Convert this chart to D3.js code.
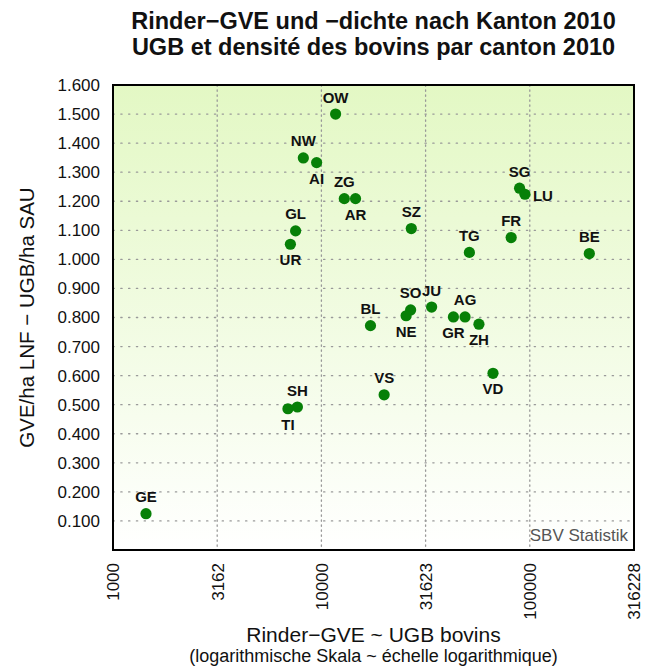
<!DOCTYPE html>
<html><head><meta charset="utf-8">
<script src="https://cdn.jsdelivr.net/npm/d3@7"></script>
<style>
html,body{margin:0;padding:0;background:#fff;}
svg{display:block;font-family:"Liberation Sans",Arial,Helvetica,sans-serif;}
</style></head>
<body>
<svg id="chart" width="648" height="671"></svg>
<script>
// ---- data ----
const cantons = ["OW","NW","AI","ZG","AR","GL","UR","SG","LU","SZ","FR","TG","BE","SO","NE","JU","GR","AG","ZH","BL","VD","VS","SH","TI","GE"];
const gve     = [11700, 8190, 9485, 12880, 14580, 7520, 7100, 89300, 94800, 27000, 81400, 51300, 193000, 26800, 25500, 33800, 43000, 48900, 57000, 17200, 66600, 20000, 7670, 6910, 1440];
const density = [1.500, 1.349, 1.333, 1.209, 1.209, 1.098, 1.052, 1.245, 1.224, 1.106, 1.075, 1.024, 1.020, 0.826, 0.806, 0.836, 0.802, 0.802, 0.777, 0.772, 0.608, 0.534, 0.492, 0.486, 0.125];
const xTicks  = [1000, 3162, 10000, 31623, 100000, 316228];
const yTicks  = [0.1, 0.2, 0.3, 0.4, 0.5, 0.6, 0.7, 0.8, 0.9, 1.0, 1.1, 1.2, 1.3, 1.4, 1.5, 1.6];
const titleLines = ["Rinder\u2212GVE und \u2212dichte nach Kanton 2010", "UGB et densit\u00e9 des bovins par canton 2010"];

// ---- layout ----
const L = 113, R = 634, T = 85, B = 550;
const below = new Set(["AI","AR","UR","NE","GR","ZH","VD","TI"]);
const right = new Set(["LU"]);

const svg = d3.select("#chart");
const x = d3.scaleLog().domain([1000, 316228]).range([L, R]);
const y = d3.scaleLinear().domain([0, 1.6]).range([B, T]);

const defs = svg.append("defs");
const grad = defs.append("linearGradient").attr("id","bg").attr("x1",0).attr("y1",0).attr("x2",0).attr("y2",1);
grad.append("stop").attr("offset","0%").attr("stop-color","#e3f8c4");
grad.append("stop").attr("offset","100%").attr("stop-color","#ffffff");

svg.append("rect").attr("x",L).attr("y",T).attr("width",R-L).attr("height",B-T).attr("fill","url(#bg)");

// gridlines
const g = svg.append("g");
g.selectAll("line.h").data(yTicks.filter(v => v < 1.6)).join("line")
  .attr("x1",L).attr("x2",R).attr("y1",d=>y(d)).attr("y2",d=>y(d))
  .attr("stroke","#999").attr("stroke-width",1.3).attr("stroke-dasharray","1.3,6.5").attr("stroke-linecap","round");
g.selectAll("line.v").data(xTicks.slice(1,-1)).join("line")
  .attr("x1",d=>x(d)).attr("x2",d=>x(d)).attr("y1",T).attr("y2",B)
  .attr("stroke","#999").attr("stroke-width",1.3).attr("stroke-dasharray","1.3,3.7").attr("stroke-linecap","round");

// axes (labels only)
const yAxis = d3.axisLeft(y).tickValues(yTicks).tickSize(0).tickPadding(0).tickFormat(d3.format(".3f"));
svg.append("g").attr("transform",`translate(${L-13},0)`).call(yAxis)
  .call(a=>a.select(".domain").remove())
  .selectAll("text").attr("font-size",17).attr("fill","#111").attr("font-family","Liberation Sans, Arial, sans-serif");

const xAxis = d3.axisBottom(x).tickValues(xTicks).tickSize(0).tickFormat(d3.format("d"));
const xg = svg.append("g").attr("transform",`translate(0,${B})`).call(xAxis);
xg.select(".domain").remove();
xg.selectAll("text").attr("font-size",17).attr("fill","#111").attr("font-family","Liberation Sans, Arial, sans-serif")
  .attr("transform","rotate(-90)").attr("text-anchor","end").attr("x",-13).attr("y",0).attr("dy","0.35em");

// frame
svg.append("rect").attr("x",L).attr("y",T).attr("width",R-L).attr("height",B-T)
  .attr("fill","none").attr("stroke","#000").attr("stroke-width",2);

// points
const pts = cantons.map((c,i)=>({c, v:gve[i], d:density[i]}));
svg.append("g").selectAll("circle").data(pts).join("circle")
  .attr("cx",p=>x(p.v)).attr("cy",p=>y(p.d)).attr("r",5.6).attr("fill","#078007");

svg.append("g").selectAll("text").data(pts).join("text")
  .attr("x",p=>right.has(p.c) ? x(p.v)+8 : x(p.v))
  .attr("y",p=>right.has(p.c) ? y(p.d)+3 : below.has(p.c) ? y(p.d)+21 : y(p.d)-11.5)
  .attr("text-anchor",p=>right.has(p.c) ? "start" : "middle")
  .attr("dominant-baseline",p=>right.has(p.c) ? "middle" : "auto")
  .attr("font-size",15).attr("font-weight","bold").attr("fill","#111")
  .text(p=>p.c);

// watermark
svg.append("text").attr("x",R-6).attr("y",B-9).attr("text-anchor","end")
  .attr("font-size",17).attr("fill","#555").text("SBV Statistik");

// titles
svg.append("g").selectAll("text").data(titleLines).join("text")
  .attr("x",(L+R)/2).attr("y",(d,i)=>28.5+i*26).attr("text-anchor","middle")
  .attr("font-size",23.5).attr("font-weight","bold").attr("fill","#111").text(d=>d);

svg.append("text").attr("x",(L+R)/2).attr("y",642).attr("text-anchor","middle")
  .attr("font-size",21).attr("fill","#111").text("Rinder\u2212GVE ~ UGB bovins");
svg.append("text").attr("x",(L+R)/2).attr("y",662).attr("text-anchor","middle")
  .attr("font-size",18).attr("fill","#111").text("(logarithmische Skala ~ \u00e9chelle logarithmique)");
svg.append("text").attr("transform",`translate(34,${(T+B)/2}) rotate(-90)`).attr("text-anchor","middle")
  .attr("font-size",20.5).attr("fill","#111").text("GVE/ha LNF \u2212 UGB/ha SAU");
</script>
</body></html>
